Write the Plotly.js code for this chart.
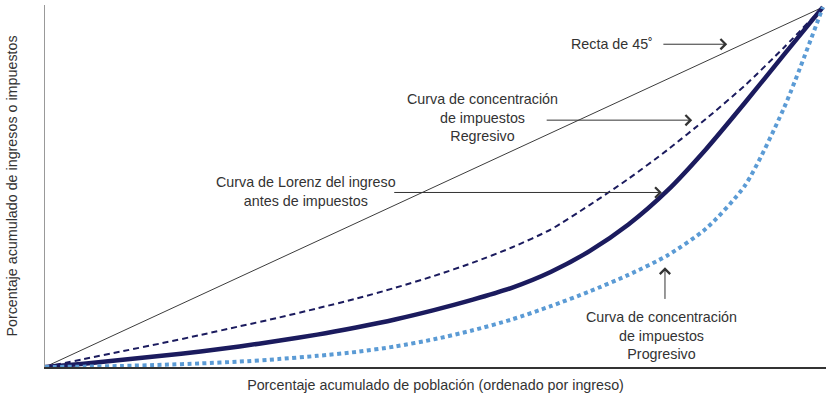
<!DOCTYPE html>
<html>
<head>
<meta charset="utf-8">
<script src="https://cdn.plot.ly/plotly-3.0.1.min.js"></script>
<style>
  body { margin: 0; background: #fff; }
  #chart { width: 829px; height: 401px; }
</style>
</head>
<body>
<div id="chart"></div>
<script>
// porcentaje acumulado de poblacion (ordenado por ingreso)
var poblacion = [0, 5, 10, 15, 20, 25, 30, 35, 40, 45, 50, 55, 60, 65, 70, 75, 80, 85, 90, 95, 100];
// curvas
var lorenz = [0, 0.9, 2.0, 3.1, 4.3, 5.7, 7.3, 9.0, 11.0, 13.2, 15.8, 18.7, 22.0, 26.4, 32.2, 39.6, 49.0, 60.6, 73.5, 86.8, 100];
var regresivo = [0, 2.2, 4.4, 6.6, 8.9, 11.3, 13.7, 16.3, 19.0, 22.0, 25.3, 29.0, 33.2, 38.2, 45.0, 52.3, 60.3, 69.0, 78.3, 88.8, 100];
var progresivo = [0, 0.1, 0.3, 0.6, 1.0, 1.5, 2.2, 3.1, 4.2, 5.7, 7.7, 10.2, 13.2, 16.9, 21.0, 25.6, 31.0, 38.5, 50.5, 72.0, 100];
var recta = [0, 100];

var font = 'Arial, "Liberation Sans", sans-serif';
var textColor = '#333';
var fs = 14.3;

var data = [
    {
        name: 'Recta de 45˚',
        x: recta,
        y: recta,
        mode: 'lines',
        line: {color: '#3c3c3c', width: 1}
    },
    {
        name: 'Regresivo',
        x: poblacion,
        y: regresivo,
        mode: 'lines',
        line: {color: '#1b1b5e', width: 2, dash: '6px,4px', shape: 'spline', smoothing: 0.7}
    },
    {
        name: 'Lorenz',
        x: poblacion,
        y: lorenz,
        mode: 'lines',
        line: {color: '#1b1b5e', width: 4.5, shape: 'spline', smoothing: 0.7}
    },
    {
        name: 'Progresivo',
        x: poblacion,
        y: progresivo,
        mode: 'lines',
        line: {color: '#5b9bd5', width: 4, dash: '4px,3.5px', shape: 'spline', smoothing: 0.7}
    }
];

function label(text, x, y, xanchor) {
    return {
        text: text, x: x, y: y, xref: 'x', yref: 'y',
        xanchor: xanchor || 'center', yanchor: 'middle',
        showarrow: false, align: 'center',
        font: {family: font, size: fs, color: textColor}
    };
}

function arrow(x0, y0, x1, y1) {
    return {
        text: '', x: x1, y: y1, ax: x0, ay: y0,
        xref: 'x', yref: 'y', axref: 'x', ayref: 'y',
        showarrow: true, arrowhead: 4, arrowsize: 2, arrowwidth: 1,
        arrowcolor: '#333', standoff: 0, startstandoff: 0
    };
}

var layout = {
    width: 829,
    height: 401,
    margin: {l: 45, r: 3, t: 5, b: 34},
    paper_bgcolor: '#fff',
    plot_bgcolor: '#fff',
    showlegend: false,
    font: {family: font, size: fs, color: textColor},
    xaxis: {
        range: [0, 100.4],
        showgrid: false, zeroline: false, showticklabels: false, ticks: '',
        showline: true, linecolor: '#333', linewidth: 1.5,
        title: {text: 'Porcentaje acumulado de población (ordenado por ingreso)', standoff: 12,
                font: {family: font, size: fs, color: textColor}},
        automargin: false
    },
    yaxis: {
        range: [0, 100.6],
        showgrid: false, zeroline: false, showticklabels: false, ticks: '',
        showline: true, linecolor: '#999', linewidth: 1,
        title: {text: 'Porcentaje acumulado de ingresos o impuestos', standoff: 22,
                font: {family: font, size: fs, color: textColor}},
        automargin: false
    },
    annotations: [
        label('Recta de 45˚', 78.4, 89.7, 'right'),
        arrow(79.3, 89.7, 87.7, 89.7),
        label('Curva de concentración<br>de impuestos<br>Regresivo', 56.3, 69.4),
        arrow(64.3, 68.6, 83.2, 68.6),
        label('Curva de Lorenz del ingreso<br>antes de impuestos', 33.5, 48.8),
        arrow(44.7, 48.5, 79.3, 48.5),
        label('Curva de concentración<br>de impuestos<br>Progresivo', 79.3, 8.8),
        arrow(79.7, 18.5, 79.7, 27.7)
    ]
};

Plotly.newPlot('chart', data, layout, {staticPlot: true});
</script>
</body>
</html>
